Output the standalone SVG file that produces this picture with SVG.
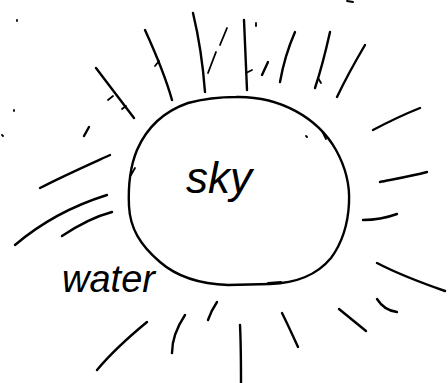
<svg xmlns="http://www.w3.org/2000/svg" width="448" height="383" viewBox="0 0 448 383">
<style>
.s{fill:none;stroke:#000;stroke-width:2.4;stroke-linecap:round;stroke-linejoin:round}
.t{stroke-width:1.8}
.lbl{font-family:"Liberation Sans",sans-serif;font-style:italic;fill:#000}
</style>
<rect width="448" height="383" fill="#fff"/>
<g id="sun">
<path class="s" d="M236,97 C280,96 318,118 336,150 C346,168 350,185 349,203 C348,225 342,243 331,258 C316,276 296,283 270,284 L228,285 C200,284 176,276 160,262 C140,245 130,228 129,206 C128,185 130,167 137,150 C147,127 165,111 188,103 C203,99 220,97 236,97 Z"/>
<path class="s t" d="M131,175 L135,168 M322,131 L326,139 M268,283 L281,282"/>
<text class="lbl" x="186" y="193" font-size="44">sky</text>
</g>
<g id="water">
<text class="lbl" x="62" y="292" font-size="38">water</text>
</g>
<g id="rays">
<path class="s" d="M96,68 L134,118"/>
<path class="s t" d="M108,100 L113,96 M122,109 L126,106"/>
<path class="s" d="M145,30 C155,52 165,75 172,100"/>
<path class="s t" d="M155,66 L159,61"/>
<path class="s" d="M193,13 C199,38 203,65 205,92"/>
<path class="s t" d="M227,28 L220,45 M216,52 L208,73"/>
<path class="s" d="M244,20 L247,90"/>
<path class="s t" d="M246,73 L252,70 M256,26 L256,23"/>
<path class="s" d="M268,62 L262,75"/>
<path class="s" d="M295,32 C288,48 283,65 280,82"/>
<path class="s" d="M330,32 C326,50 321,70 315,88"/>
<path class="s t" d="M318,78 L321,83"/>
<path class="s" d="M365,45 C355,62 346,78 337,97"/>
<path class="s" d="M373,130 C390,121 405,114 420,108"/>
<path class="s" d="M380,182 C395,179 412,176 427,172"/>
<path class="s" d="M363,220 C375,220 386,218 397,214"/>
<path class="s" d="M377,263 C400,275 422,283 445,291"/>
<path class="s" d="M377,299 C382,307 389,311 397,312"/>
<path class="s" d="M339,309 L366,331"/>
<path class="s" d="M282,313 C288,325 293,336 298,347"/>
<path class="s" d="M240,325 C241,345 241,365 241,383"/>
<path class="s" d="M217,302 C213,308 210,314 208,320"/>
<path class="s" d="M185,315 C177,327 172,340 172,353"/>
<path class="s" d="M147,322 C130,336 112,352 97,370"/>
<path class="s" d="M110,155 C88,165 63,176 40,188"/>
<path class="s" d="M107,195 C75,205 42,222 15,245"/>
<path class="s" d="M112,212 C93,217 77,226 62,236"/>
<path class="s" d="M89,127 L84,136"/>
<path class="s t" d="M306,136 L307,137 M17,20 L17,21 M14,110 L14,111 M2,135 L3,136 M347,1 L353,2"/>
</g>
</svg>
